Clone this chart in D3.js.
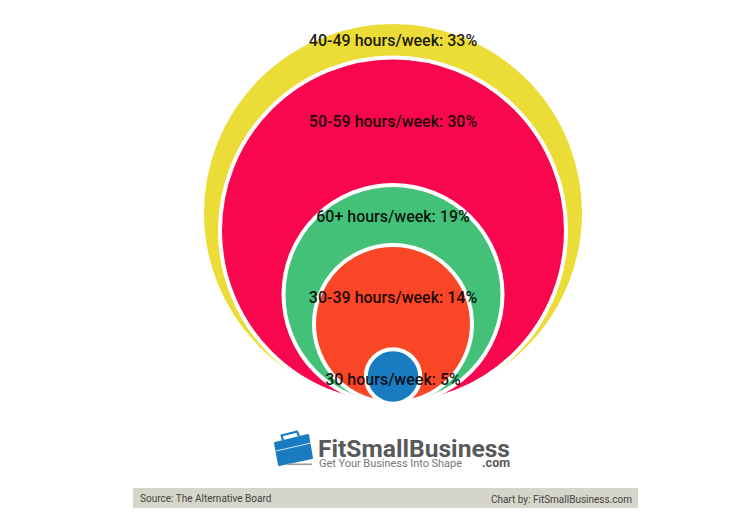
<!DOCTYPE html>
<html>
<head>
<meta charset="utf-8">
<script src="https://d3js.org/d3.v7.min.js"></script>
<style>
body{margin:0;background:#fff;}
svg{display:block;}
text{font-family:Roboto,sans-serif;}
</style>
</head>
<body>
<div id="chart"></div>
<script>
// hours worked per week, biggest bubble first
var categories = ["40-49 hours/week", "50-59 hours/week", "60+ hours/week", "30-39 hours/week", "30 hours/week"];
var shares = [33, 30, 19, 14, 5];

var sourceText = "Source: The Alternative Board";
var creditText = "Chart by: FitSmallBusiness.com";

var width = 756, height = 527;
var cx = 393;

var svg = d3.select("#chart").append("svg")
    .attr("width", width)
    .attr("height", height);

var r = d3.scaleLinear().domain([5, 14, 19, 30, 33]).range([27.2, 79, 109.5, 173, 191]);
var cy = d3.scaleOrdinal().domain(categories).range([213, 230.5, 294.5, 324, 376.5]);
var color = d3.scaleOrdinal().domain(categories)
    .range(["#ecdc38", "#f9074e", "#43c178", "#f94626", "#1a7cc0"]);
var labelY = d3.scaleOrdinal().domain(categories)
    .range([45.5, 126.5, 221.5, 302.5, 384.5]);

var rows = d3.zip(categories, shares);

svg.append("g")
    .selectAll("circle").data(rows).enter().append("circle")
    .attr("cx", cx)
    .attr("cy", function(d){ return cy(d[0]); })
    .attr("r", function(d){ return r(d[1]); })
    .attr("fill", function(d){ return color(d[0]); })
    .attr("stroke", "#fff")
    .attr("stroke-width", 4);

svg.selectAll("text.label").data(rows).enter().append("text")
    .attr("class", "label")
    .attr("x", cx)
    .attr("y", function(d){ return labelY(d[0]); })
    .attr("text-anchor", "middle")
    .attr("font-size", 16)
    .attr("font-weight", 500)
    .attr("fill", "#000")
    .attr("fill-opacity", 0.9)
    .text(function(d){ return d[0] + ": " + d[1] + "%"; });

// logo
var logo = svg.append("g");
logo.append("path")
    .attr("d", "M275 443 L308 435 L312 458 L279 465 Z")
    .attr("fill", "#1a7cc0")
    .attr("stroke", "#1a7cc0")
    .attr("stroke-width", 2)
    .attr("stroke-linejoin", "round");
logo.append("path")
    .attr("d", "M283 440 L281.5 435.5 L297 431.5 L299 436")
    .attr("fill", "none")
    .attr("stroke", "#1a7cc0")
    .attr("stroke-width", 2.2)
    .attr("stroke-linejoin", "round");
logo.append("path")
    .attr("d", "M276 451 L311 443")
    .attr("stroke", "#fff")
    .attr("stroke-opacity", 0.8)
    .attr("stroke-width", 1);
logo.append("rect")
    .attr("x", 287).attr("y", 463.5).attr("width", 25).attr("height", 1.6)
    .attr("fill", "#999");
logo.append("text")
    .attr("x", 318).attr("y", 456.5)
    .attr("font-size", 24.5)
    .attr("font-weight", 700)
    .attr("font-family", "Lato,sans-serif")
    .attr("fill", "#58595b")
    .attr("textLength", 192)
    .attr("lengthAdjust", "spacingAndGlyphs")
    .text("FitSmallBusiness");
logo.append("text")
    .attr("x", 319).attr("y", 467)
    .attr("font-size", 11)
    .attr("font-family", "Lato,sans-serif")
    .attr("fill", "#77787a")
    .attr("textLength", 143)
    .attr("lengthAdjust", "spacing")
    .text("Get Your Business Into Shape");
logo.append("text")
    .attr("x", 482).attr("y", 466.5)
    .attr("font-size", 12)
    .attr("font-weight", 700)
    .attr("font-family", "Lato,sans-serif")
    .attr("fill", "#58595b")
    .attr("textLength", 28)
    .attr("lengthAdjust", "spacingAndGlyphs")
    .text(".com");

// footer bar
svg.append("rect")
    .attr("x", 133).attr("y", 488).attr("width", 505).attr("height", 20)
    .attr("fill", "#d6d5c9");
svg.append("text")
    .attr("x", 140).attr("y", 502)
    .attr("font-size", 10)
    .attr("fill", "#444")
    .text(sourceText);
svg.append("text")
    .attr("x", 632).attr("y", 503)
    .attr("text-anchor", "end")
    .attr("font-size", 10)
    .attr("fill", "#444")
    .text(creditText);
</script>
</body>
</html>
